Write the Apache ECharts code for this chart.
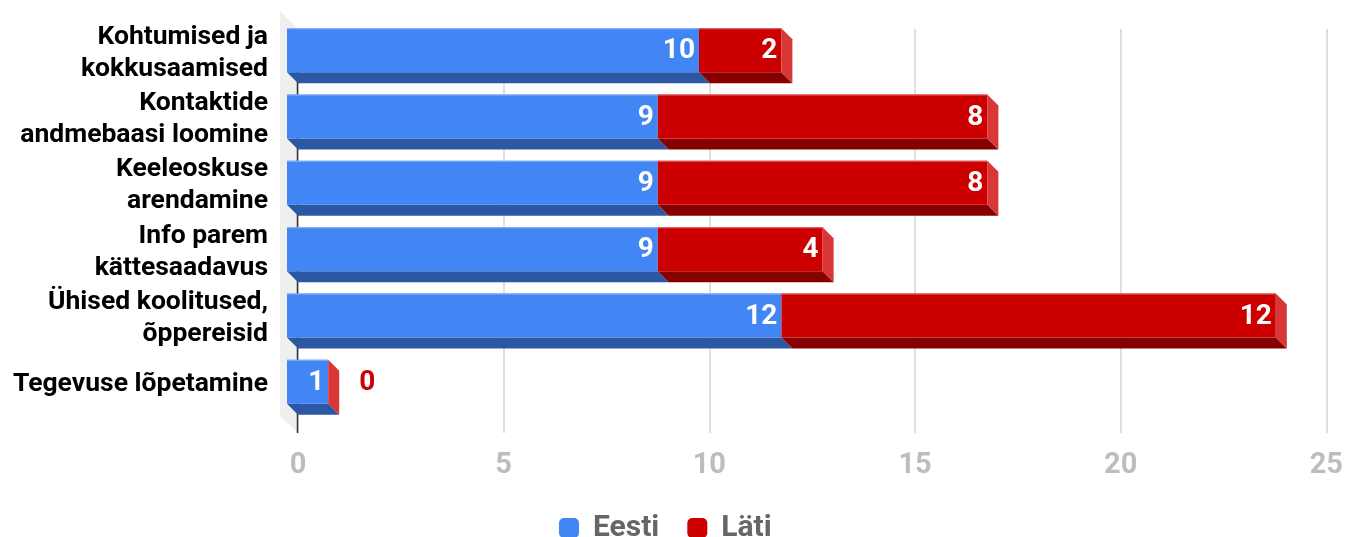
<!DOCTYPE html>
<html>
<head>
<meta charset="utf-8">
<script src="https://cdn.jsdelivr.net/npm/echarts@6/dist/echarts.min.js"></script>
<style>
html,body{margin:0;padding:0;background:#fff;}
#chart{width:1346px;height:537px;}
</style>
</head>
<body>
<div id="chart"></div>
<script>
const categories = ['Kohtumised ja\nkokkusaamised','Kontaktide\nandmebaasi loomine','Keeleoskuse\narendamine','Info parem\nkättesaadavus','Ühised koolitused,\nõppereisid','Tegevuse lõpetamine'];
const eesti = [10, 9, 9, 9, 12, 1];
const lati = [2, 8, 8, 4, 12, 0];
const seriesNames = ['Eesti', 'Läti'];
const xMin = 0, xMax = 25, xStep = 5;

const FONT = 'Roboto';
const D = 11;            // 3D depth offset (px)
const BAR_RATIO = 0.663; // bar thickness relative to band
const colors = {
  Eesti: {front: '#4285f4', bottom: '#2c58a3', top: '#8ab4f8', side: '#3a6fd0'},
  'Läti': {front: '#cc0000', bottom: '#860000', top: '#e26a6a', side: '#d93636'}
};

const rows = categories.map((c, i) => [i, eesti[i], lati[i]]);

function segRender(which) {
  return function (params, api) {
    const i = api.value(0);
    const e = api.value(1), l = api.value(2);
    const start = which === 0 ? 0 : e;
    const end = which === 0 ? e : e + l;
    const p0 = api.coord([start, i]);
    const p1 = api.coord([end, i]);
    const band = api.size([0, 1])[1];
    const h = band * BAR_RATIO;
    const yc = p0[1];
    const yt = yc - h / 2, yb = yc + h / 2;
    const xa = p0[0], xb = p1[0];
    const c = colors[seriesNames[which]];
    const val = which === 0 ? e : l;
    const children = [];
    if (xb > xa) {
      children.push({type: 'polygon', shape: {points: [[xa - D, yb - D], [xb - D, yb - D], [xb, yb], [xa, yb]]}, style: {fill: c.bottom}});
      children.push({type: 'rect', shape: {x: xa - D, y: yt - D, width: xb - xa, height: h}, style: {fill: c.front}});
      children.push({type: 'rect', shape: {x: xa - D, y: yt - D, width: xb - xa, height: 1}, style: {fill: c.top}});
    }
    if (which === 1) {
      children.push({type: 'polygon', shape: {points: [[xb - D, yt - D], [xb, yt], [xb, yb], [xb - D, yb - D]]}, style: {fill: c.side}});
    }
    if (val > 0) {
      children.push({type: 'text', style: {text: String(val), x: xb - D - 4, y: yc - D + 1, align: 'right', verticalAlign: 'middle', fill: '#ffffff', font: 'bold 28px ' + FONT}});
    } else {
      children.push({type: 'text', style: {text: String(val), x: xb + 20, y: yc - D + 1, align: 'left', verticalAlign: 'middle', fill: c.front, font: 'bold 28px ' + FONT}});
    }
    return {type: 'group', children: children};
  };
}

function decorRender(params, api) {
  const cs = params.coordSys;
  const x0 = cs.x, top = cs.y, bottom = cs.y + cs.height;
  return {type: 'group', children: [
    {type: 'polygon', shape: {points: [[x0 - 18, top - 18], [x0, top], [x0, bottom], [x0 - 18, bottom - 17]]}, style: {fill: '#efefef'}},
    {type: 'line', shape: {x1: x0 - 0.5, y1: top, x2: x0 - 0.5, y2: bottom}, style: {stroke: '#333333', lineWidth: 1.5}}
  ]};
}

const chart = echarts.init(document.getElementById('chart'), null, {renderer: 'canvas'});
chart.setOption({
  animation: false,
  textStyle: {fontFamily: FONT},
  grid: [
    {left: 298, right: 18, top: 29, height: 404},
    {left: 298, right: 18, top: 28, height: 398},
    {left: 298, right: 18, top: 20, height: 398}
  ],
  xAxis: [
    {type: 'value', gridIndex: 0, min: xMin, max: xMax, interval: xStep,
     axisLine: {show: false}, axisTick: {show: false},
     axisLabel: {fontFamily: FONT, fontSize: 29, fontWeight: 'bold', color: '#bdbdbd', margin: 18},
     splitLine: {lineStyle: {color: '#d4d4d4', width: 1.5}}},
    {type: 'value', gridIndex: 1, min: xMin, max: xMax, interval: xStep, show: false},
    {type: 'value', gridIndex: 2, min: xMin, max: xMax, interval: xStep, show: false}
  ],
  yAxis: [
    {type: 'value', gridIndex: 0, min: 0, max: 1, show: false},
    {type: 'category', gridIndex: 1, inverse: true, data: categories, show: false},
    {type: 'category', gridIndex: 2, inverse: true, data: categories,
     axisLine: {show: false}, axisTick: {show: false}, splitLine: {show: false},
     axisLabel: {interval: 0, fontFamily: FONT, fontSize: 26.5, fontWeight: 'bold', color: '#000000', margin: 30, lineHeight: 32, align: 'right'}}
  ],
  legend: {
    data: seriesNames, left: 554, top: 508, icon: 'roundRect',
    itemWidth: 20, itemHeight: 20, itemGap: 28,
    textStyle: {fontFamily: FONT, fontSize: 30, fontWeight: 'bold', color: '#666666', padding: [0, 0, 0, 9]}
  },
  series: [
    {type: 'custom', name: 'decor', xAxisIndex: 0, yAxisIndex: 0, data: [[0, 0]], renderItem: decorRender, silent: true},
    {type: 'custom', name: 'Eesti', xAxisIndex: 1, yAxisIndex: 1, data: rows, encode: {x: [1, 2], y: 0}, itemStyle: {color: colors.Eesti.front}, renderItem: segRender(0)},
    {type: 'custom', name: 'Läti', xAxisIndex: 1, yAxisIndex: 1, data: rows, encode: {x: [1, 2], y: 0}, itemStyle: {color: colors['Läti'].front}, renderItem: segRender(1)}
  ]
});
</script>
</body>
</html>
